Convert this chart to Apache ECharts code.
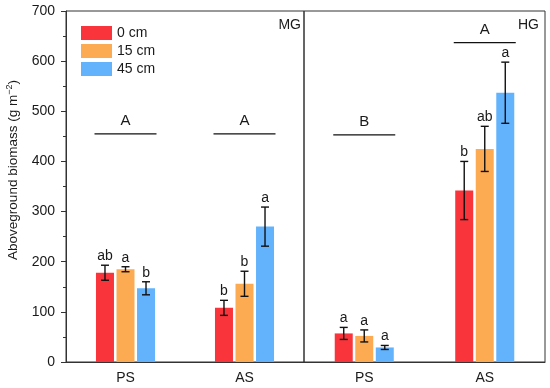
<!DOCTYPE html>
<html>
<head>
<meta charset="utf-8">
<script src="https://cdn.jsdelivr.net/npm/echarts@6/dist/echarts.min.js"></script>
<style>html,body{margin:0;padding:0;background:#fff;}#c{width:550px;height:388px;}</style>
</head>
<body>
<div id="c"></div>
<script>
// ---- data ----
const categories = ['PS', 'AS'];
const seriesNames = ['0 cm', '15 cm', '45 cm'];
// MG panel
const mg0 = [178, 108];
const mg15 = [185, 156];
const mg45 = [147, 270];
const mgErr0 = [15, 15];
const mgErr15 = [5, 25];
const mgErr45 = [13, 39];
const mgLet0 = ['ab', 'b'];
const mgLet15 = ['a', 'b'];
const mgLet45 = ['b', 'a'];
const mgGroupLetters = ['A', 'A'];
const mgGroupLevel = [455, 455];
// HG panel
const hg0 = [57, 342];
const hg15 = [52, 425];
const hg45 = [29, 537];
const hgErr0 = [12, 58];
const hgErr15 = [12, 45];
const hgErr45 = [4, 61];
const hgLet0 = ['a', 'b'];
const hgLet15 = ['a', 'ab'];
const hgLet45 = ['a', 'a'];
const hgGroupLetters = ['B', 'A'];
const hgGroupLevel = [453, 637];
const yTicks = [0, 100, 200, 300, 400, 500, 600, 700];

// ---- style ----
const FONT = "'Liberation Sans', Arial, sans-serif";
const TXT = '#1a1a1a';
const colors = ['#F9343B', '#FCAB52', '#62B3FC'];
const BAR_W = 18;
const GAP = 0.14;
const STEP = BAR_W * (1 + GAP);

function barSeries(name, data, gi, color) {
  return {
    type: 'bar', name: name, data: data, xAxisIndex: gi, yAxisIndex: gi,
    barWidth: BAR_W, barGap: (GAP * 100) + '%',
    itemStyle: { color: color }, emphasis: { disabled: true }, z: 2
  };
}

function errSeries(vals, errs, lets, gi, k) {
  const off = (k - 1) * STEP;
  return {
    type: 'custom', name: 'err' + gi + k, xAxisIndex: gi, yAxisIndex: gi, z: 5,
    data: vals.map((v, i) => [i, v, errs[i]]),
    encode: { x: 0, y: 1 },
    renderItem: function (params, api) {
      const c = api.value(0), v = api.value(1), e = api.value(2);
      const t = api.coord([c, v + e]);
      const b = api.coord([c, v - e]);
      const x = t[0] + off;
      const st = { stroke: '#111', lineWidth: 1.4 };
      return {
        type: 'group', children: [
          { type: 'line', shape: { x1: x, y1: t[1], x2: x, y2: b[1] }, style: st },
          { type: 'line', shape: { x1: x - 4, y1: t[1], x2: x + 4, y2: t[1] }, style: st },
          { type: 'line', shape: { x1: x - 4, y1: b[1], x2: x + 4, y2: b[1] }, style: st },
          { type: 'text', style: { text: lets[params.dataIndex], x: x, y: t[1] - 2, align: 'center', verticalAlign: 'bottom', fontSize: 14, fontFamily: FONT, fill: TXT } }
        ]
      };
    }
  };
}

function groupSeries(levels, lets, gi) {
  return {
    type: 'custom', name: 'grp' + gi, xAxisIndex: gi, yAxisIndex: gi, z: 5,
    data: levels.map((v, i) => [i, v]),
    encode: { x: 0, y: 1 },
    renderItem: function (params, api) {
      const p = api.coord([api.value(0), api.value(1)]);
      return {
        type: 'group', children: [
          { type: 'line', shape: { x1: p[0] - 31, y1: p[1], x2: p[0] + 31, y2: p[1] }, style: { stroke: '#111', lineWidth: 1.3 } },
          { type: 'text', style: { text: lets[params.dataIndex], x: p[0], y: p[1] - 5, align: 'center', verticalAlign: 'bottom', fontSize: 15, fontFamily: FONT, fill: TXT } }
        ]
      };
    }
  };
}

function xAxis(gi) {
  return {
    type: 'category', gridIndex: gi, data: categories, boundaryGap: true,
    axisLine: { lineStyle: { color: '#333', width: 1 } },
    axisTick: { alignWithLabel: true, length: 5, lineStyle: { color: '#333' } },
    axisLabel: { fontSize: 14, fontFamily: FONT, color: TXT, margin: 9 }
  };
}

const option = {
  animation: false,
  backgroundColor: '#fff',
  textStyle: { fontFamily: FONT },
  grid: [
    { left: 66, right: 246, top: 11, bottom: 26, show: true, borderColor: '#333', borderWidth: 1, backgroundColor: 'transparent' },
    { left: 304, right: 5, top: 11, bottom: 26, show: true, borderColor: '#333', borderWidth: 1, backgroundColor: 'transparent' }
  ],
  legend: {
    data: seriesNames, orient: 'vertical', left: 76, top: 21,
    itemWidth: 31, itemHeight: 14, itemGap: 4, icon: 'rect',
    textStyle: { fontSize: 14, fontFamily: FONT, color: TXT }, selectedMode: false
  },
  xAxis: [xAxis(0), xAxis(1)],
  yAxis: [
    {
      type: 'value', gridIndex: 0, min: yTicks[0], max: yTicks[yTicks.length - 1], interval: 100,
      axisLine: { show: true, lineStyle: { color: '#333' } },
      axisTick: { show: true, length: 5, lineStyle: { color: '#333' } },
      minorTick: { show: true, splitNumber: 2, length: 3, lineStyle: { color: '#333' } },
      splitLine: { show: false },
      axisLabel: { fontSize: 14, fontFamily: FONT, color: TXT, margin: 11 }
    },
    {
      type: 'value', gridIndex: 1, min: yTicks[0], max: yTicks[yTicks.length - 1], interval: 100,
      axisLine: { show: false }, axisTick: { show: false }, axisLabel: { show: false }, splitLine: { show: false }
    }
  ],
  graphic: [
    {
      type: 'text', x: 13, y: 170, rotation: Math.PI / 2,
      style: {
        text: '{n|Aboveground biomass (g m}{s|−2}{n|)}',
        align: 'center', verticalAlign: 'middle',
        rich: {
          n: { fontSize: 13.5, fontFamily: FONT, fill: TXT, color: TXT },
          s: { fontSize: 9, fontFamily: FONT, fill: TXT, color: TXT, verticalAlign: 'top', padding: [0, 0, 7, 0] }
        }
      }
    },
    { type: 'text', x: 301, y: 25, style: { text: 'MG', align: 'right', verticalAlign: 'middle', fontSize: 14, fontFamily: FONT, fill: TXT } },
    { type: 'text', x: 539, y: 25, style: { text: 'HG', align: 'right', verticalAlign: 'middle', fontSize: 14, fontFamily: FONT, fill: TXT } }
  ],
  series: [
    barSeries(seriesNames[0], mg0, 0, colors[0]),
    barSeries(seriesNames[1], mg15, 0, colors[1]),
    barSeries(seriesNames[2], mg45, 0, colors[2]),
    barSeries(seriesNames[0], hg0, 1, colors[0]),
    barSeries(seriesNames[1], hg15, 1, colors[1]),
    barSeries(seriesNames[2], hg45, 1, colors[2]),
    errSeries(mg0, mgErr0, mgLet0, 0, 0),
    errSeries(mg15, mgErr15, mgLet15, 0, 1),
    errSeries(mg45, mgErr45, mgLet45, 0, 2),
    errSeries(hg0, hgErr0, hgLet0, 1, 0),
    errSeries(hg15, hgErr15, hgLet15, 1, 1),
    errSeries(hg45, hgErr45, hgLet45, 1, 2),
    groupSeries(mgGroupLevel, mgGroupLetters, 0),
    groupSeries(hgGroupLevel, hgGroupLetters, 1)
  ]
};

const chart = echarts.init(document.getElementById('c'), null, { renderer: 'canvas' });
chart.setOption(option);
</script>
</body>
</html>
